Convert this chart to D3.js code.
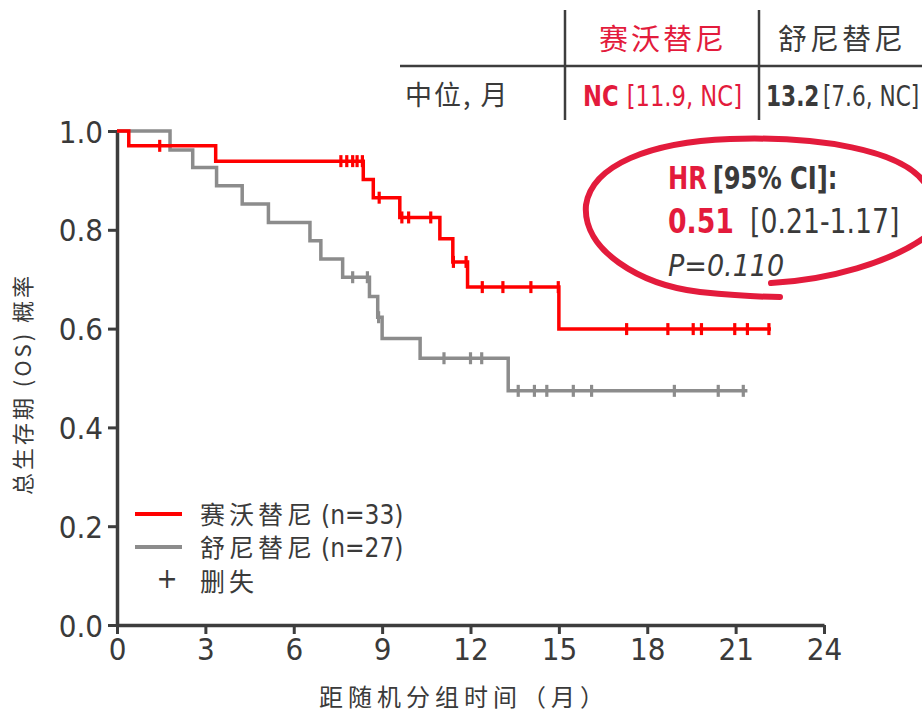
<!DOCTYPE html>
<html>
<head>
<meta charset="utf-8">
<script src="https://cdn.jsdelivr.net/npm/d3@7"></script>
<style>
  html, body { margin: 0; padding: 0; background: #fff; }
  svg { display: block; }
</style>
</head>
<body>
<svg id="chart" width="922" height="713"></svg>
<script>
// Kaplan–Meier steps: [time in months, survival after the event]
const savoSteps = [[0, 1], [0.4, 0.970], [3.35, 0.939], [8.36, 0.902], [8.7, 0.865], [9.6, 0.825],
  [10.96, 0.782], [11.4, 0.735], [11.9, 0.684], [15.0, 0.599]];
const savoEnd = 22.2;
const savoCensor = [1.45, 7.6, 7.8, 8.0, 8.15, 8.33, 8.9, 9.67, 9.9, 10.65, 11.42, 11.85,
  12.4, 13.1, 14.05, 14.98, 17.3, 18.7, 19.56, 19.84, 20.97, 21.4, 22.13];

const suniSteps = [[0, 1], [1.8, 0.9615], [2.57, 0.926], [3.38, 0.889], [4.25, 0.852], [5.14, 0.815],
  [6.55, 0.778], [6.92, 0.741], [7.66, 0.704], [8.57, 0.665], [8.85, 0.623], [9.0, 0.58],
  [10.29, 0.54], [13.28, 0.474]];
const suniEnd = 21.4;
const suniCensor = [8.0, 8.5, 8.88, 11.1, 12.0, 12.38, 13.62, 14.17, 14.59, 15.49, 16.11,
  18.92, 20.41, 21.26];

const xTicks = [0, 3, 6, 9, 12, 15, 18, 21, 24];
const yTicks = [0, 0.2, 0.4, 0.6, 0.8, 1.0];

const armNames = ["赛沃替尼", "舒尼替尼"];
const armN = [33, 27];
const medianLabel = "中位, 月";
const medianBold = ["NC", "13.2"];
const medianCI = ["[11.9, NC]", "[7.6, NC]"];
const hrValue = "0.51";
const hrCI = "[0.21-1.17]";
const pValue = "P=0.110";

const RED = "#ff0000", GRAY = "#8c8c8c", CRIMSON = "#e31b3c", AXIS = "#3d3d3d", TXT = "#3a3a3a";
const NUM = "'DejaVu Sans Condensed', 'Liberation Sans Narrow', sans-serif";
const CJK = "'Noto Sans CJK SC', sans-serif";

const svg = d3.select("#chart");
const x = d3.scaleLinear().domain([0, 24]).range([117, 824]);
const y = d3.scaleLinear().domain([0, 1]).range([625, 131]);

// axes
const xAxis = svg.append("g").attr("transform", `translate(0,${y(0)})`)
  .call(d3.axisBottom(x).tickValues(xTicks).tickSize(9).tickSizeOuter(0).tickPadding(4));
const yAxis = svg.append("g").attr("transform", `translate(${x(0)},0)`)
  .call(d3.axisLeft(y).tickValues(yTicks).tickFormat(d3.format(".1f")).tickSize(9).tickSizeOuter(0).tickPadding(5));
[xAxis, yAxis].forEach(g => {
  g.select(".domain").attr("stroke", AXIS).attr("stroke-width", 3.5);
  g.selectAll(".tick line").attr("stroke", AXIS).attr("stroke-width", 3);
  g.selectAll(".tick text").attr("fill", TXT).attr("font-family", NUM).attr("font-size", 31);
});
yAxis.selectAll(".tick text").attr("dy", "0.36em");

// survival curves
function stepLine(steps, end) {
  const pts = [];
  steps.forEach((s, i) => {
    if (i > 0) pts.push([s[0], steps[i - 1][1]]);
    pts.push(s);
  });
  pts.push([end, steps[steps.length - 1][1]]);
  return d3.line().x(d => x(d[0])).y(d => y(d[1]))(pts);
}
function survAt(steps, t) {
  let v = steps[0][1];
  steps.forEach(s => { if (s[0] <= t) v = s[1]; });
  return v;
}
function drawArm(steps, end, censor, color) {
  svg.append("path").attr("d", stepLine(steps, end)).attr("fill", "none")
    .attr("stroke", color).attr("stroke-width", 3.5).attr("stroke-linejoin", "miter");
  svg.append("g").selectAll("line").data(censor).join("line")
    .attr("x1", d => x(d)).attr("x2", d => x(d))
    .attr("y1", d => y(survAt(steps, d)) - 6).attr("y2", d => y(survAt(steps, d)) + 6)
    .attr("stroke", color).attr("stroke-width", 3.2);
}
drawArm(suniSteps, suniEnd, suniCensor, GRAY);
drawArm(savoSteps, savoEnd, savoCensor, RED);

// axis titles
svg.append("text").attr("x", 464).attr("y", 706).attr("text-anchor", "middle")
  .attr("font-family", CJK).attr("font-size", 24).attr("letter-spacing", 5).attr("fill", TXT).text("距随机分组时间（月）");
svg.append("text").attr("transform", "translate(31,384) rotate(-90)").attr("text-anchor", "middle")
  .attr("font-family", CJK).attr("font-size", 22).attr("letter-spacing", 3).attr("fill", TXT).text("总生存期 (OS) 概率");

// legend
const legend = svg.append("g");
[[RED, 0], [GRAY, 1]].forEach(([c, i]) => {
  legend.append("line").attr("x1", 135).attr("x2", 182).attr("y1", 514 + i * 33).attr("y2", 514 + i * 33)
    .attr("stroke", c).attr("stroke-width", 4);
  const t = legend.append("text").attr("x", 200).attr("y", 524 + i * 33).attr("fill", TXT).attr("font-size", 25);
  t.append("tspan").attr("font-family", CJK).attr("letter-spacing", 4).text(armNames[i]);
  t.append("tspan").attr("font-family", NUM).attr("font-size", 26).attr("dx", 5).text(`(n=${armN[i]})`);
});
legend.append("text").attr("x", 167).attr("y", 588).attr("text-anchor", "middle").attr("fill", TXT)
  .attr("font-family", NUM).attr("font-size", 28).text("+");
legend.append("text").attr("x", 200).attr("y", 591).attr("fill", TXT)
  .attr("font-family", CJK).attr("font-size", 25).attr("letter-spacing", 4).text("删失");

// median table
const tbl = svg.append("g");
tbl.append("line").attr("x1", 400).attr("x2", 922).attr("y1", 66).attr("y2", 66).attr("stroke", AXIS).attr("stroke-width", 2.5);
[565, 759].forEach(vx => tbl.append("line").attr("x1", vx).attr("x2", vx).attr("y1", 10).attr("y2", 120)
  .attr("stroke", AXIS).attr("stroke-width", 2.5));
tbl.append("text").attr("x", 663).attr("y", 50).attr("text-anchor", "middle").attr("fill", CRIMSON)
  .attr("font-family", CJK).attr("font-size", 29).attr("letter-spacing", 3).text(armNames[0]);
tbl.append("text").attr("x", 842).attr("y", 50).attr("text-anchor", "middle").attr("fill", TXT)
  .attr("font-family", CJK).attr("font-size", 29).attr("letter-spacing", 3).text(armNames[1]);
tbl.append("text").attr("x", 405).attr("y", 105).attr("fill", TXT)
  .attr("font-family", CJK).attr("font-size", 27).attr("letter-spacing", 2).text(medianLabel);
const m1 = tbl.append("g").attr("transform", "translate(583,106) scale(0.9,1)")
  .append("text").attr("fill", CRIMSON).attr("font-family", NUM).attr("font-size", 28);
m1.append("tspan").attr("font-weight", "bold").text(medianBold[0]);
m1.append("tspan").attr("dx", 9).text(medianCI[0]);
const m2 = tbl.append("g").attr("transform", "translate(766,106) scale(0.86,1)")
  .append("text").attr("fill", TXT).attr("font-family", NUM).attr("font-size", 28);
m2.append("tspan").attr("font-weight", "bold").text(medianBold[1]);
m2.append("tspan").attr("dx", 4).text(medianCI[1]);

// hazard ratio callout
const hr = svg.append("g");
const h1 = hr.append("g").attr("transform", "translate(668,189) scale(0.84,1)")
  .append("text").attr("font-family", NUM).attr("font-size", 32).attr("font-weight", "bold");
h1.append("tspan").attr("fill", CRIMSON).text("HR");
h1.append("tspan").attr("fill", TXT).attr("dx", 7).text("[95% CI]:");
const h2 = hr.append("g").attr("transform", "translate(668,233) scale(0.9,1)")
  .append("text").attr("font-family", NUM).attr("font-size", 33);
h2.append("tspan").attr("fill", CRIMSON).attr("font-weight", "bold").text(hrValue);
h2.append("tspan").attr("fill", TXT).attr("dx", 18).text(hrCI);
hr.append("text").attr("x", 668).attr("y", 276).attr("font-family", NUM).attr("font-size", 30)
  .attr("font-style", "italic").attr("fill", TXT).text(pValue);
// hand-drawn loop around the callout
hr.append("path").attr("fill", "none").attr("stroke", CRIMSON).attr("stroke-width", 6).attr("stroke-linecap", "round")
  .attr("d", "M 924 182 C 900 150, 820 136, 730 139 C 650 142, 592 165, 586 205 C 582 250, 640 285, 700 292 C 740 296, 770 297, 780 297");
hr.append("path").attr("fill", "none").attr("stroke", CRIMSON).attr("stroke-width", 6).attr("stroke-linecap", "round")
  .attr("d", "M 771 283 C 830 280, 890 262, 924 238");
</script>
</body>
</html>
